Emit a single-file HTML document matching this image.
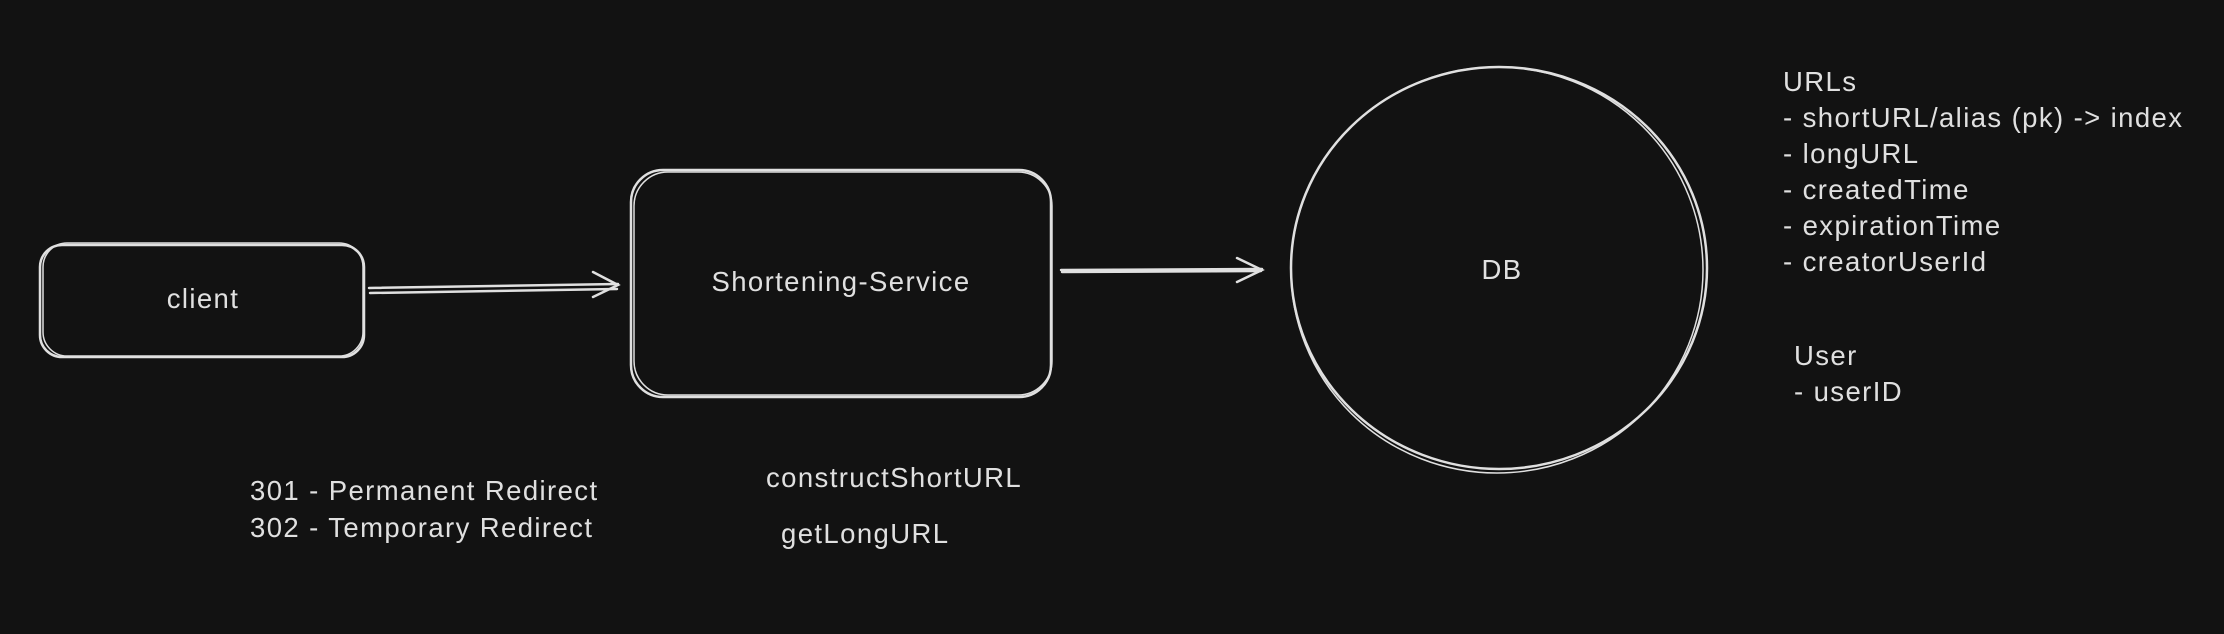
<!DOCTYPE html>
<html><head><style>
html,body{margin:0;padding:0;background:#121212;}
svg{display:block}
text{font-family:"Liberation Sans",sans-serif;fill:#e0e0e0;font-size:27.5px;letter-spacing:1.4px}
</style></head><body>
<svg width="2224" height="634" viewBox="0 0 2224 634" xmlns="http://www.w3.org/2000/svg">
<g fill="none" stroke="#e0e0e0" stroke-width="2.5" stroke-linecap="round">
<rect x="40" y="245" width="324" height="112" rx="22"/>
<rect x="43" y="243" width="320" height="113" rx="24" stroke-width="1.5"/>
<rect x="631" y="170" width="420" height="227" rx="32"/>
<rect x="634" y="172" width="418" height="223" rx="34" stroke-width="1.5"/>
<ellipse cx="1499" cy="268" rx="208" ry="201"/>
<ellipse cx="1497" cy="270" rx="206" ry="203" stroke-width="1.5"/>
<path d="M369 288 L618 284 M370 293 L617 289"/>
<path d="M593 272 L618 285 L593 297"/>
<path d="M1061 270 L1262 269 M1062 272 L1261 271"/>
<path d="M1237 258 L1262 270 L1237 282"/>
</g>
<text x="203" y="308" text-anchor="middle">client</text>
<text x="841" y="291" text-anchor="middle">Shortening-Service</text>
<text x="1502" y="279" text-anchor="middle">DB</text>
<text x="1783" y="91">URLs</text>
<text x="1783" y="127">- shortURL/alias (pk) -&gt; index</text>
<text x="1783" y="163">- longURL</text>
<text x="1783" y="199">- createdTime</text>
<text x="1783" y="235">- expirationTime</text>
<text x="1783" y="271">- creatorUserId</text>
<text x="1794" y="365">User</text>
<text x="1794" y="401">- userID</text>
<text x="250" y="500">301 - Permanent Redirect</text>
<text x="250" y="537">302 - Temporary Redirect</text>
<text x="766" y="487">constructShortURL</text>
<text x="781" y="543">getLongURL</text>
</svg>
</body></html>
